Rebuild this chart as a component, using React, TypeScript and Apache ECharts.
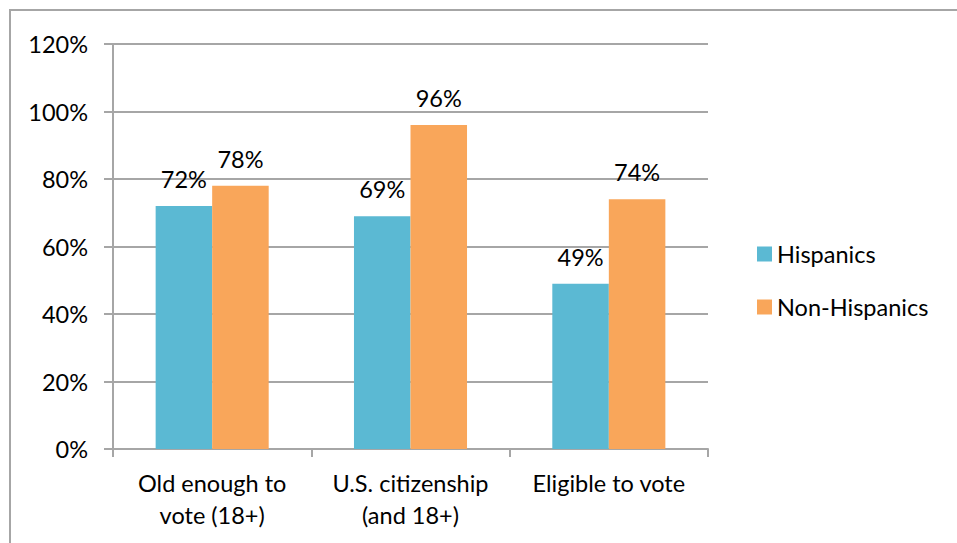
import React, { useEffect, useRef } from "react";
import * as echarts from "echarts";

const categories = ["Old enough to\nvote (18+)", "U.S. citizenship\n(and 18+)", "Eligible to vote"];
const hispanics = [72, 69, 49];
const nonHispanics = [78, 96, 74];
const seriesNames = ["Hispanics", "Non-Hispanics"];

const FONT = "Lato";
const FS = 23.5;
const GRAY = "#A6A6A6";

export default function App() {
  const ref = useRef<HTMLDivElement>(null);
  useEffect(() => {
    if (!ref.current) return;
    document.documentElement.style.overflow = "hidden";
    document.body.style.margin = "0";
    document.body.style.overflow = "hidden";
    const chart = echarts.init(ref.current, undefined, { renderer: "svg" });
    chart.setOption({
      animation: false,
      textStyle: { fontFamily: FONT },
      graphic: [
        {
          type: "polyline",
          shape: { points: [[10, 600], [10, 10], [1100, 10]] },
          style: { fill: "none", stroke: GRAY, lineWidth: 2 },
          silent: true,
        },
      ],
      legend: {
        orient: "vertical",
        left: 757,
        top: 242,
        padding: 0,
        itemWidth: 15,
        itemHeight: 15,
        itemGap: 29,
        icon: "rect",
        textStyle: { fontFamily: FONT, fontSize: FS, color: "#000", lineHeight: 20 },
        data: seriesNames,
      },
      grid: { left: 113, right: 249, top: 44, bottom: 94, containLabel: false },
      xAxis: {
        type: "category",
        data: categories,
        axisLine: { lineStyle: { color: GRAY, width: 2 } },
        axisTick: { show: true, length: 8, lineStyle: { color: GRAY, width: 2 } },
        axisLabel: { interval: 0, fontFamily: FONT, fontSize: FS, color: "#000", margin: 18, lineHeight: 32 },
      },
      yAxis: {
        type: "value",
        min: 0,
        max: 120,
        interval: 20,
        axisLine: { show: true, lineStyle: { color: GRAY, width: 2 } },
        axisTick: { show: true, length: 9, lineStyle: { color: GRAY, width: 2 } },
        splitLine: { lineStyle: { color: GRAY, width: 2 } },
        axisLabel: { fontFamily: FONT, fontSize: FS, color: "#000", margin: 25, formatter: "{value}%" },
      },
      series: [
        {
          name: seriesNames[0],
          type: "bar",
          data: hispanics,
          barGap: "0%",
          barCategoryGap: "43%",
          itemStyle: { color: "#5BB9D3" },
          label: { show: true, position: "top", distance: 15, formatter: "{c}%", fontFamily: FONT, fontSize: FS, color: "#000" },
        },
        {
          name: seriesNames[1],
          type: "bar",
          data: nonHispanics,
          barGap: "0%",
          barCategoryGap: "43%",
          itemStyle: { color: "#F9A65A" },
          label: { show: true, position: "top", distance: 15, formatter: "{c}%", fontFamily: FONT, fontSize: FS, color: "#000" },
        },
      ],
    });
    return () => chart.dispose();
  }, []);
  return (
    <div
      ref={ref}
      style={{ position: "absolute", left: 0, top: 0, width: 957, height: 543, overflow: "hidden" }}
    />
  );
}
